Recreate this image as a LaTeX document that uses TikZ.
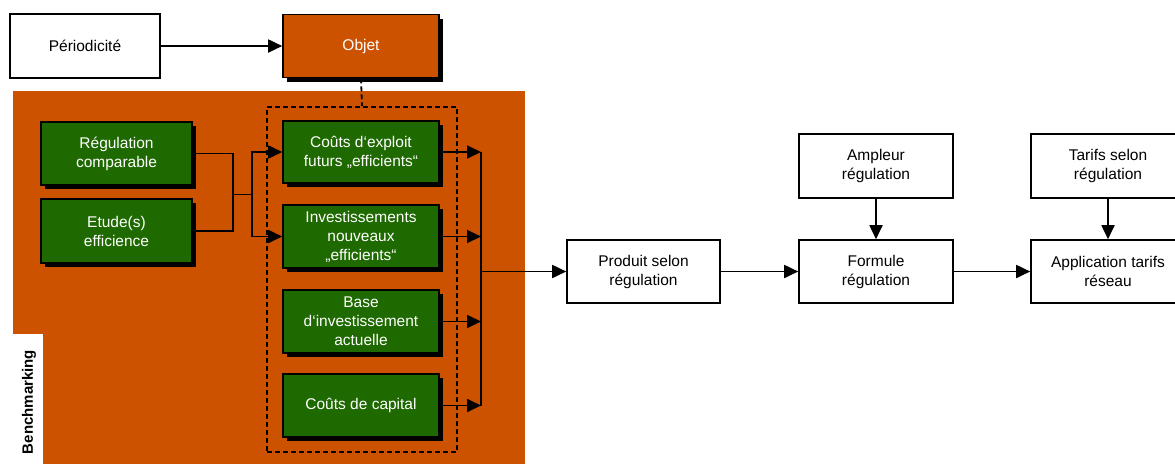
\documentclass[tikz,border=0pt]{standalone}
\usepackage{fontspec}
\setmainfont{Liberation Sans}
\usetikzlibrary{arrows.meta}
\definecolor{orng}{RGB}{204,82,0}
\definecolor{grn}{RGB}{30,105,0}
\tikzset{
  box/.style={draw=black, line width=1.6pt, fill=white, align=center, text=black, inner sep=2pt},
  obox/.style={box, fill=orng, text=white},
  gbox/.style={box, fill=grn, text=white},
  conn/.style={line width=1.8pt, -{Triangle[length=14pt,width=13pt]}},
  plain/.style={line width=1.8pt},
  grpbox/.style={draw=black, line width=1.8pt, dash pattern=on 5pt off 3pt, minimum width=190pt, minimum height=345pt},
}
\newcommand{\myshad}[4]{% x, y, w, h
  \fill[black] (#1-#3/2+4,#2-#4/2+4) rectangle (#1+#3/2+4,#2+#4/2+4);
}
\begin{document}
\begin{tikzpicture}[x=1pt,y=-1pt, font=\fontsize{15.5}{19}\selectfont]
\clip (0,0) rectangle (1175,464);
\fill[white] (0,0) rectangle (1175,464);
% orange background
\fill[orng] (13,91) rectangle (525,464);
\fill[white] (13,334) rectangle (43,464);
\node[rotate=90, font=\fontsize{15}{17}\bfseries\selectfont] (bm) at (29,402) {Benchmarking};

% shadows
\myshad{361}{46}{156}{63}
\myshad{116.5}{153.5}{151}{63}
\myshad{116.5}{231}{151}{64}
\myshad{361}{152}{156}{62}
\myshad{361}{236.5}{156}{63}
\myshad{361}{321.5}{156}{63}
\myshad{361}{405.5}{156}{63}

% dashed group
\node[grpbox] (grp) at (362,279.5) {};

% nodes
\node[box, minimum width=150pt, minimum height=64pt] (per) at (85,46) {Périodicité};
\node[obox, minimum width=156pt, minimum height=63pt] (obj) at (361,46) {Objet};
\node[gbox, minimum width=151pt, minimum height=63pt] (reg) at (116.5,153.5) {Régulation\\comparable};
\node[gbox, minimum width=151pt, minimum height=64pt] (etu) at (116.5,231) {Etude(s)\\efficience};
\node[gbox, minimum width=156pt, minimum height=62pt] (c1) at (361,152) {Coûts d‘exploit\\futurs „efficients“};
\node[gbox, minimum width=156pt, minimum height=63pt] (c2) at (361,236.5) {Investissements\\nouveaux\\„efficients“};
\node[gbox, minimum width=156pt, minimum height=63pt] (c3) at (361,321.5) {Base\\d‘investissement\\actuelle};
\node[gbox, minimum width=156pt, minimum height=63pt] (c4) at (361,405.5) {Coûts de capital};

\node[box, minimum width=153pt, minimum height=63pt] (prod) at (643.5,271.5) {Produit selon\\régulation};
\node[box, minimum width=154pt, minimum height=63pt] (form) at (876,271.5) {Formule\\régulation};
\node[box, minimum width=154pt, minimum height=63pt] (app) at (1108,271.5) {Application tarifs\\réseau};
\node[box, minimum width=154pt, minimum height=64pt] (amp) at (876,166) {Ampleur\\régulation};
\node[box, minimum width=154pt, minimum height=64pt] (tar) at (1108,166) {Tarifs selon\\régulation};

% connectors
\draw[conn] (per.east) -- (obj.west);
\draw[line width=1.8pt, dash pattern=on 5pt off 3pt] (obj.south) -- (grp.north);

\coordinate (j1) at (233,194.5);
\coordinate (j2) at (252,194.5);
\draw[plain] (reg.east) -| (j1);
\draw[plain] (etu.east) -| (j1);
\draw[plain] (j1) -- (j2);
\draw[conn] (j2) |- (c1.west);
\draw[conn] (j2) |- (c2.west);

\coordinate (bus) at (481,273);
\draw[plain] (bus |- c1.east) -- (bus |- c4.east);
\draw[conn] (c1.east) -- (bus |- c1.east);
\draw[conn] (c2.east) -- (bus |- c2.east);
\draw[conn] (c3.east) -- (bus |- c3.east);
\draw[conn] (c4.east) -- (bus |- c4.east);
\draw[conn] (bus |- prod.west) -- (prod.west);

\draw[conn] (prod.east) -- (form.west);
\draw[conn] (form.east) -- (app.west);
\draw[conn] (amp.south) -- (form.north);
\draw[conn] (tar.south) -- (app.north);
\end{tikzpicture}
\end{document}
